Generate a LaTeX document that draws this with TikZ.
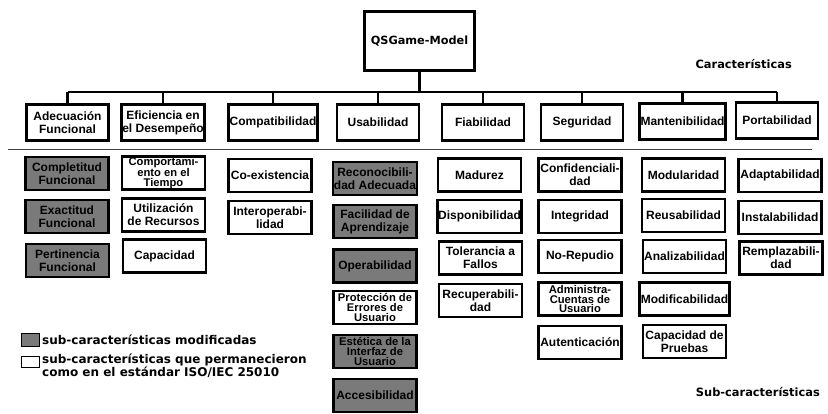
\documentclass[tikz,border=0pt]{standalone}
\usepackage{fontspec}
\setmainfont{Liberation Sans}
\newfontfamily\verdana{DejaVu Sans}
\definecolor{modgray}{RGB}{122,122,122}

\tikzset{
  box/.style={draw, line width=2.8pt, minimum width=83pt, minimum height=33pt,
    inner sep=1pt, align=center, font=\bfseries\fontsize{12}{13}\selectfont},
  mod/.style={box, fill=modgray},
  tight/.style={font=\bfseries\fontsize{11.2}{9.8}\selectfont},
  charbox/.style={box, minimum width=82pt, minimum height=36pt},
  link/.style={line width=2.8pt},
  sidetext/.style={inner sep=0pt, align=left, font=\verdana\bfseries\fontsize{11.4}{11.5}\selectfont}
}

\begin{document}
\begin{tikzpicture}[x=1pt, y=-1pt]
\useasboundingbox (0,0) rectangle (828,414);

% model and characteristics
\node[box, minimum width=110pt, minimum height=59pt, font=\verdana\bfseries\fontsize{11.3}{13}\selectfont] (root) at (419.5,41) {QSGame-Model};
\node[charbox] (adec) at (67.5,122.5) {Adecuación\\Funcional};
\node[charbox] (efic) at (163,122.5) {Eficiencia en\\el Desempeño};
\node[charbox] (comp) at (273,122.5) {Compatibilidad};
\node[charbox] (usab) at (378,122.5) {Usabilidad};
\node[charbox] (fiab) at (483,122.5) {Fiabilidad};
\node[charbox] (segu) at (582,122.5) {Seguridad};
\node[charbox] (mant) at (682.5,121.5) {Mantenibilidad};
\node[charbox] (port) at (777,120.5) {Portabilidad};

\coordinate (busL) at (68,92);
\coordinate (busR) at (777,92);
\draw[link] (busL) -- (busR);
\draw[link] (root.south) -- (root.south |- busL);
\foreach \n in {adec,efic,comp,usab,fiab,segu,mant,port}
  \draw[link] (\n.north) -- (\n.north |- busL);

\node[sidetext, anchor=east] (charlbl) at (792,64) {Características};
\draw[line width=0.8pt, black!75] (8,149) -- (812,149);

% sub-characteristics
\node[mod] (compl) at (67,173.5) {Completitud\\Funcional};
\node[mod] (exact) at (67,216.5) {Exactitud\\Funcional};
\node[mod] (pert) at (67.5,260.5) {Pertinencia\\Funcional};

\node[box, tight] (comport) at (163.5,173) {Comportami-\\ento en el\\Tiempo};
\node[box] (utiliz) at (163.5,215) {Utilización\\de Recursos};
\node[box] (capac) at (164.5,256) {Capacidad};

\node[box] (coex) at (270,175.5) {Co-existencia};
\node[box] (inter) at (270,217.5) {Interoperabi-\\lidad};

\node[mod] (recon) at (375,178.5) {Reconocibili-\\dad Adecuada};
\node[mod] (facil) at (375,221.5) {Facilidad de\\Aprendizaje};
\node[mod] (operab) at (375,266) {Operabilidad};
\node[box, tight] (protec) at (375,307.5) {Protección de\\Errores de\\Usuario};
\node[mod, tight] (estet) at (375,351.5) {Estética de la\\Interfaz de\\Usuario};
\node[mod] (acces) at (375,395.5) {Accesibilidad};

\node[box] (madur) at (479.5,175) {Madurez};
\node[box] (dispon) at (479.5,216.5) {Disponibilidad};
\node[box] (toler) at (480.5,258) {Tolerancia a\\Fallos};
\node[box] (recup) at (480.5,300.5) {Recuperabili-\\dad};

\node[box] (confid) at (580,175) {Confidenciali-\\dad};
\node[box] (integ) at (580,216.5) {Integridad};
\node[box] (norep) at (580,256.5) {No-Repudio};
\node[box, tight] (admin) at (580,299) {Administra-\\Cuentas de\\Usuario};
\node[box] (autent) at (580,342.5) {Autenticación};

\node[box] (modul) at (683.5,175) {Modularidad};
\node[box] (reus) at (683.5,215.5) {Reusabilidad};
\node[box] (analiz) at (684.5,256.5) {Analizabilidad};
\node[box] (modif) at (684.5,299) {Modificabilidad};
\node[box] (pruebas) at (684.5,341.5) {Capacidad de\\Pruebas};

\node[box] (adapt) at (780,175.5) {Adaptabilidad};
\node[box] (instal) at (780,217.5) {Instalabilidad};
\node[box] (rempl) at (781,258) {Remplazabili-\\dad};

% legend
\draw[line width=1pt, fill=modgray] (21,334) rectangle (39,346);
\node[sidetext, anchor=west, font=\verdana\bfseries\fontsize{12}{11.7}\selectfont] (modlbl) at (42,340) {sub-características modificadas};
\draw[line width=1pt, fill=white] (21,356) rectangle (39,367);
\node[sidetext, anchor=west, font=\verdana\bfseries\fontsize{12}{11.7}\selectfont] (stdlbl) at (42,365.5) {sub-características que permanecieron\\como en el estándar ISO/IEC 25010};

\node[sidetext, anchor=east] (sublbl) at (820,392) {Sub-características};
\end{tikzpicture}
\end{document}
